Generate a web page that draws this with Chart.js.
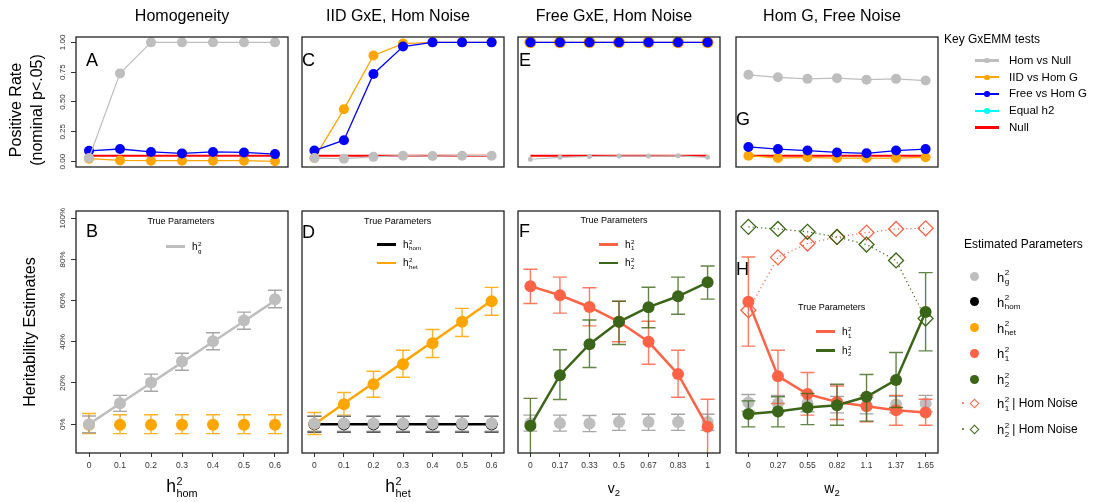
<!DOCTYPE html>
<html lang="en">
<head>
<meta charset="UTF-8" />
<title>GxEMM simulations</title>
<script src="https://cdn.jsdelivr.net/npm/chart.js@4.4.0/dist/chart.umd.min.js"></script>
<style>
  body { margin: 0; background: #fff; }
  #wrap { position: relative; width: 1094px; height: 502px; overflow: hidden; background: #fff;
          font-family: "Liberation Sans", Arial, Helvetica, sans-serif; color: #000; }
  #wrap canvas { position: absolute; left: 0; top: 0; }
  .tx { position: absolute; white-space: nowrap; }
</style>
</head>
<body>
<div id="wrap"></div>
<script>
// ---------- data ----------
const colTitles = ['Homogeneity', 'IID GxE, Hom Noise', 'Free GxE, Hom Noise', 'Hom G, Free Noise'];
const hLevels = ['0', '0.1', '0.2', '0.3', '0.4', '0.5', '0.6'];
const v2Levels = ['0', '0.17', '0.33', '0.5', '0.67', '0.83', '1'];
const w2Levels = ['0', '0.27', '0.55', '0.82', '1.1', '1.37', '1.65'];
const rateTickVals = [0, 0.25, 0.5, 0.75, 1];
const rateTickLabels = ['0.00', '0.25', '0.50', '0.75', '1.00'];
const pctTickVals = [0, 20, 40, 60, 80, 100];
const pctTickLabels = ['0%', '20%', '40%', '60%', '80%', '100%'];
const testNames = ['Hom vs Null', 'IID vs Hom G', 'Free vs Hom G', 'Equal h2', 'Null'];
const estNames = ['g', 'hom', 'het', '1', '2', '1', '2'];

// positive rates (top row)
const nullRate = [0.05, 0.05, 0.05, 0.05, 0.05, 0.05, 0.05];
const A_homNull = [0.03, 0.74, 1, 1, 1, 1, 1];
const A_iid = [0.025, 0.01, 0.008, 0.008, 0.008, 0.008, 0.003];
const A_free = [0.091, 0.106, 0.081, 0.069, 0.081, 0.077, 0.063];
const C_homNull = [0.03, 0.025, 0.04, 0.05, 0.047, 0.05, 0.05];
const C_iid = [0.03, 0.44, 0.89, 0.99, 1, 1, 1];
const C_free = [0.093, 0.18, 0.735, 0.965, 1, 1, 1];
const E_homNull = [0.02, 0.036, 0.043, 0.047, 0.047, 0.049, 0.036];
const E_iid = [1, 1, 1, 1, 1, 1, 1];
const E_free = [1, 1, 1, 1, 1, 1, 1];
const G_homNull = [0.728, 0.707, 0.694, 0.7, 0.687, 0.694, 0.68];
const G_iid = [0.05, 0.03, 0.036, 0.03, 0.03, 0.03, 0.036];
const G_free = [0.123, 0.105, 0.093, 0.077, 0.07, 0.093, 0.105];

// heritability estimates in % (bottom row)
const B_trueG = [0, 10, 20, 30, 40, 50, 60];
const B_estG = [0, 10.2, 20.2, 30.4, 40.3, 50.3, 60.7];
const B_estGLo = [-4.2, 6.2, 16, 26.2, 36.1, 46.1, 56.5];
const B_estGHi = [4, 14, 24.3, 34.4, 44.4, 54.4, 65];
const B_estHet = [-0.3, -0.3, -0.3, -0.3, -0.3, -0.3, -0.3];
const B_estHetLo = [-4.6, -4.6, -4.6, -4.6, -4.6, -4.6, -4.6];
const B_estHetHi = [5.2, 4.6, 4.6, 4.6, 4.6, 4.6, 4.6];

const D_trueHom = [0, 0, 0, 0, 0, 0, 0];
const D_trueHet = [0, 10, 20, 30, 40, 50, 60];
const D_estHom = [0, 0, 0, 0, 0, 0, 0];
const D_estHomLo = [-3.8, -3.8, -3.8, -3.8, -3.8, -3.8, -3.8];
const D_estHomHi = [3.8, 3.8, 3.8, 3.8, 3.8, 3.8, 3.8];
const D_estHet = [0.2, 9.7, 19.4, 29.1, 39.3, 49.7, 59.7];
const D_estHetLo = [-5, 4.4, 13.1, 22.8, 32.4, 42.6, 52.9];
const D_estHetHi = [5.7, 15.4, 25.7, 35.9, 46, 56.2, 66.4];
const D_estG = [0.3, 0.3, 0.3, 0.3, 0.3, 0.3, 0.3];
const D_estGLo = [-3.4, -3.4, -3.4, -3.4, -3.4, -3.4, -3.4];
const D_estGHi = [4, 4, 4, 4, 4, 4, 4];

const F_true1 = [67, 62.6, 56.9, 49.7, 40, 24.3, -1.3];
const F_true2 = [-0.8, 23.8, 38.8, 49.7, 56.8, 62.1, 68.9];
const F_est1 = [67, 62.6, 56.9, 49.7, 40, 24.3, -1.3];
const F_est1Lo = [58.6, 53.9, 47.7, 40, 29.1, 13.1, -16];
const F_est1Hi = [75.2, 71.4, 66.2, 59.7, 50, 35.9, 12.1];
const F_est2 = [-0.8, 23.8, 38.8, 49.7, 56.8, 62.1, 68.9];
const F_est2Lo = [-16, 12, 27.5, 38.7, 46.8, 53.4, 60.7];
const F_est2Hi = [12.5, 36.1, 50.6, 59.7, 66.5, 71.4, 76.8];
const F_estG = [0.5, 0.5, 0.3, 1, 1, 1, 1];
const F_estGLo = [-3.4, -3.4, -3.6, -3, -3, -3, -3];
const F_estGHi = [4.4, 4.4, 4.2, 4.8, 4.8, 4.8, 4.8];

const H_true1 = [59.4, 23.3, 14.6, 10.8, 8.7, 6.8, 5.7];
const H_true2 = [4.9, 6.2, 8.1, 9.2, 13.3, 21.5, 54.5];
const H_est1 = [59.4, 23.3, 14.6, 10.8, 8.7, 6.8, 5.7];
const H_est1Lo = [37.9, 10, 4.4, 2.3, 1.1, -0.5, -0.5];
const H_est1Hi = [81.2, 35.9, 25.1, 18.5, 14, 14, 12.1];
const H_est2 = [4.9, 6.2, 8.1, 9.2, 13.3, 21.5, 54.5];
const H_est2Lo = [-1.3, -1.3, -0.2, -0.5, 1.5, 8.1, 35.6];
const H_est2Hi = [11.3, 13.3, 14.9, 19.4, 24.1, 34.8, 73.6];
const H_estG = [10.5, 10, 10, 9.5, 9, 9.5, 10];
const H_estGLo = [6.3, 6, 6, 5.5, 5, 5.5, 6];
const H_estGHi = [14.4, 14, 14, 13.5, 13, 13.5, 14];
const H_homNoise1 = [55.3, 81, 87.7, 90.9, 93, 94.8, 95.1];
const H_homNoise2 = [95.8, 94.8, 93.4, 90.9, 87.2, 79.5, 51.3];

// ---------- styles ----------
const GRAY = '#bebebe', ORANGE = '#ffa500', BLUE = '#0000ff', CYAN = '#00ffff', RED = '#ff0000';
const TOMATO = '#ff6347', GREEN = '#3b6519', BLACK = '#000000';
const FONT = '"Liberation Sans", Arial, Helvetica, sans-serif';
const BOX_L = [76, 292, 508, 726];
const BOX_W = 212;
const ROWS = [{ top: 37, bottom: 197 }, { top: 211, bottom: 453 }];

const wrap = document.getElementById('wrap');
const pts = arr => arr.map((v, i) => ({ x: i, y: v }));

// error bars + box + rotated y tick labels
const panelDeco = {
  id: 'panelDeco',
  beforeDatasetDraw(chart, args) {
    const ds = chart.data.datasets[args.index];
    if (!ds.errLo) return;
    const { ctx, chartArea: ca } = chart;
    const ys = chart.scales.y;
    ctx.save();
    ctx.beginPath();
    ctx.rect(ca.left, ca.top, ca.width, ca.height);
    ctx.clip();
    ctx.strokeStyle = ds.errColor;
    ctx.lineWidth = 1.4;
    args.meta.data.forEach((p, i) => {
      const y1 = ys.getPixelForValue(ds.errLo[i]);
      const y2 = ys.getPixelForValue(ds.errHi[i]);
      ctx.beginPath();
      ctx.moveTo(p.x, y1); ctx.lineTo(p.x, y2);
      ctx.moveTo(p.x - 7, y1); ctx.lineTo(p.x + 7, y1);
      ctx.moveTo(p.x - 7, y2); ctx.lineTo(p.x + 7, y2);
      ctx.stroke();
    });
    ctx.restore();
  },
  afterDraw(chart, args, opts) {
    const { ctx, chartArea: ca } = chart;
    ctx.save();
    ctx.strokeStyle = '#222';
    ctx.lineWidth = 1.3;
    ctx.strokeRect(ca.left, ca.top, ca.width, ca.height);
    if (opts.showY) {
      const ys = chart.scales.y;
      ctx.fillStyle = '#333';
      ctx.font = '8px ' + FONT;
      ctx.textAlign = 'center';
      ctx.textBaseline = 'middle';
      opts.yVals.forEach((v, i) => {
        ctx.save();
        ctx.translate(ca.left - 13, ys.getPixelForValue(v));
        ctx.rotate(-Math.PI / 2);
        ctx.fillText(opts.yLabels[i], 0, 0);
        ctx.restore();
      });
    }
    ctx.restore();
  }
};

function makePanel(col, row, datasets, xLabels) {
  const cv = document.createElement('canvas');
  cv.width = 1094; cv.height = 502;
  wrap.appendChild(cv);
  const left = BOX_L[col], right = left + BOX_W;
  const { top, bottom } = ROWS[row];
  const showY = col === 0, showX = row === 1;
  const yW = 10, xH = 30;
  const yVals = row === 0 ? rateTickVals : pctTickVals;
  const yLabels = row === 0 ? rateTickLabels : pctTickLabels;
  new Chart(cv.getContext('2d'), {
    type: 'line',
    data: { datasets: datasets.map((d, i) => Object.assign({ tension: 0, order: -i }, d)) },
    options: {
      responsive: false, animation: false, events: [], devicePixelRatio: 1,
      layout: { padding: { left: left - (showY ? yW : 0), right: 1094 - right, top: top,
                           bottom: 502 - bottom - (showX ? xH : 0) } },
      plugins: { legend: { display: false }, tooltip: { enabled: false },
                 panelDeco: { showY, yVals, yLabels } },
      scales: {
        x: {
          type: 'linear', min: -0.42, max: 6.42, display: showX,
          afterBuildTicks: s => { s.ticks = xLabels.map((_, i) => ({ value: i })); },
          afterFit: s => { s.height = xH; },
          grid: { drawOnChartArea: false, drawTicks: true, tickLength: 4, color: '#333' },
          border: { display: false },
          ticks: { padding: 4, autoSkip: false, maxRotation: 0, color: '#333',
                   font: { size: 8.5, family: FONT }, callback: v => xLabels[v] }
        },
        y: {
          type: 'linear', min: row === 0 ? -0.045 : -14, max: row === 0 ? 1.045 : 103.5,
          display: showY,
          afterBuildTicks: s => { s.ticks = yVals.map(v => ({ value: v })); },
          afterFit: s => { s.width = yW; },
          grid: { drawOnChartArea: false, drawTicks: true, tickLength: 5, color: '#333' },
          border: { display: false },
          ticks: { display: false }
        }
      }
    },
    plugins: [panelDeco]
  });
}

function rateLine(vals, color, r, w) {
  return { data: pts(vals), borderColor: color, borderWidth: w || 1.3, pointRadius: r,
           pointBorderWidth: 0, pointBackgroundColor: color };
}
function nullLine() {
  return { data: pts(nullRate), borderColor: RED, borderWidth: 2, pointRadius: 0 };
}
function trueLine(vals, color) {
  return { data: pts(vals), borderColor: color, borderWidth: 2.5, pointRadius: 0 };
}
function est(vals, lo, hi, color, errColor) {
  return { data: pts(vals), showLine: false, pointRadius: 6, pointBorderWidth: 0,
           pointBackgroundColor: color, borderColor: color, errLo: lo, errHi: hi, errColor: errColor };
}
function homNoise(vals, color) {
  return { data: pts(vals), borderColor: color, borderWidth: 1.2, borderDash: [1.2, 3],
           pointStyle: 'rectRot', pointRadius: 7.5, pointBorderWidth: 1.3,
           pointBorderColor: color, pointBackgroundColor: 'rgba(0,0,0,0)' };
}

// top row
makePanel(0, 0, [nullLine(), rateLine(A_iid, ORANGE, 5), rateLine(A_free, BLUE, 5), rateLine(A_homNull, GRAY, 5, 1.2)], hLevels);
makePanel(1, 0, [nullLine(), rateLine(C_iid, ORANGE, 5), rateLine(C_free, BLUE, 5), rateLine(C_homNull, GRAY, 5, 1.2)], hLevels);
makePanel(2, 0, [nullLine(), rateLine(E_iid, ORANGE, 6), rateLine(E_free, BLUE, 5), rateLine(E_homNull, GRAY, 2.5, 1.2)], v2Levels);
makePanel(3, 0, [nullLine(), rateLine(G_iid, ORANGE, 5), rateLine(G_free, BLUE, 5), rateLine(G_homNull, GRAY, 5, 1.2)], w2Levels);

// bottom row
const GRAY_E = 'rgba(150,150,150,0.85)', ORANGE_E = 'rgba(255,165,0,0.85)';
const TOMATO_E = 'rgba(255,99,71,0.85)', GREEN_E = 'rgba(59,101,25,0.8)', BLACK_E = 'rgba(0,0,0,0.85)';
makePanel(0, 1, [trueLine(B_trueG, GRAY),
                 est(B_estHet, B_estHetLo, B_estHetHi, ORANGE, ORANGE_E),
                 est(B_estG, B_estGLo, B_estGHi, GRAY, GRAY_E)], hLevels);
makePanel(1, 1, [trueLine(D_trueHom, BLACK), trueLine(D_trueHet, ORANGE),
                 est(D_estHom, D_estHomLo, D_estHomHi, BLACK, BLACK_E),
                 est(D_estHet, D_estHetLo, D_estHetHi, ORANGE, ORANGE_E),
                 est(D_estG, D_estGLo, D_estGHi, GRAY, GRAY_E)], hLevels);
makePanel(2, 1, [est(F_estG, F_estGLo, F_estGHi, GRAY, GRAY_E),
                 trueLine(F_true1, TOMATO), trueLine(F_true2, GREEN),
                 est(F_est1, F_est1Lo, F_est1Hi, TOMATO, TOMATO_E),
                 est(F_est2, F_est2Lo, F_est2Hi, GREEN, GREEN_E)], v2Levels);
makePanel(3, 1, [est(H_estG, H_estGLo, H_estGHi, GRAY, GRAY_E),
                 trueLine(H_true1, TOMATO), trueLine(H_true2, GREEN),
                 est(H_est1, H_est1Lo, H_est1Hi, TOMATO, TOMATO_E),
                 est(H_est2, H_est2Lo, H_est2Hi, GREEN, GREEN_E),
                 homNoise(H_homNoise1, TOMATO), homNoise(H_homNoise2, GREEN)], w2Levels);

// ---------- text and legends ----------
const mctx = document.createElement('canvas').getContext('2d');
function textWidth(str, size) { mctx.font = size + 'px ' + FONT; return mctx.measureText(str).width; }

function addText(str, x, y, size, opt = {}) {
  const el = document.createElement('div');
  el.className = 'tx';
  el.textContent = str;
  el.style.fontSize = size + 'px';
  el.style.lineHeight = size + 'px';
  el.style.left = x + 'px';
  el.style.top = (y - size / 2) + 'px';
  if (opt.align === 'center') el.style.transform = 'translateX(-50%)';
  if (opt.rotate) { el.style.top = y + 'px'; el.style.transform = 'translate(-50%,-50%) rotate(-90deg)'; }
  wrap.appendChild(el);
  return el;
}
function addBase(str, x, base, size) {
  const el = document.createElement('div');
  el.className = 'tx';
  el.textContent = str;
  el.style.fontSize = size + 'px';
  el.style.lineHeight = size + 'px';
  el.style.left = x + 'px';
  el.style.top = (base - 0.846 * size) + 'px';
  wrap.appendChild(el);
}
function hWidth(size, sub) {
  return textWidth('h', size) + 0.5 + Math.max(textWidth('2', size * 0.62), textWidth(sub, size * 0.62));
}
function hLabel(x, base, size, sub, tail) {
  addBase('h', x, base, size);
  const hx = x + textWidth('h', size) + 0.5;
  const s = size * 0.62;
  addBase('2', hx, base - 0.42 * size, s);
  addBase(sub, hx, base + 0.25 * size, s);
  const end = hx + Math.max(textWidth('2', s), textWidth(sub, s));
  if (tail) addBase(tail, end + 3, base, size * 0.92);
  return end;
}
function addBox(x, y, w, h, css) {
  const el = document.createElement('div');
  el.style.cssText = `position:absolute;left:${x}px;top:${y}px;width:${w}px;height:${h}px;` + css;
  wrap.appendChild(el);
}
function legLine(x1, x2, y, lw, color) { addBox(x1, y - lw / 2, x2 - x1, lw, 'background:' + color); }
function legDot(cx, cy, r, color) { addBox(cx - r, cy - r, 2 * r, 2 * r, 'border-radius:50%;background:' + color); }
function legDiamond(cx, cy, s, color) {
  addBox(cx - s / 2, cy - s / 2, s, s, `border:1.5px solid ${color};box-sizing:border-box;transform:rotate(45deg)`);
}

// column titles
colTitles.forEach((t, i) => addText(t, BOX_L[i] + BOX_W / 2, 16, 16, { align: 'center' }));
// y titles
addText('Positive Rate', 16, 110, 16, { rotate: true });
addText('(nominal p<.05)', 37, 110, 16, { rotate: true });
addText('Heritability Estimates', 30, 332, 16, { rotate: true });
// panel letters
[['A', 86, 60], ['C', 302, 60], ['E', 519, 60], ['G', 736, 119],
 ['B', 86, 230.5], ['D', 302, 231.5], ['F', 519, 231], ['H', 736, 268.5]]
  .forEach(([l, x, y]) => addText(l, x, y, 18));

// x axis titles
[['hom', 0], ['het', 1]].forEach(([sub, c]) => {
  const w = hWidth(17.5, sub);
  hLabel(BOX_L[c] + BOX_W / 2 - w / 2, 492.5, 17.5, sub);
});
[['v', 2], ['w', 3]].forEach(([ch, c]) => {
  const w = textWidth(ch, 14) + textWidth('2', 9.5);
  const x = BOX_L[c] + BOX_W / 2 - w / 2;
  addBase(ch, x, 492.7, 14);
  addBase('2', x + textWidth(ch, 14), 496, 9.5);
});

// "True Parameters" inner legends
function trueLegend(cx, ty, lx1, ly, items) {
  addText('True Parameters', cx, ty, 9, { align: 'center' });
  items.forEach(([sub, color], i) => {
    const y = ly + i * 18.7;
    legLine(lx1, lx1 + 19, y, 2.5, color);
    hLabel(lx1 + 26, y + 3.8, 10, sub);
  });
}
trueLegend(181, 221.7, 166, 246.7, [['g', GRAY]]);
trueLegend(397.7, 221, 377, 244.3, [['hom', BLACK], ['het', ORANGE]]);
trueLegend(614, 220, 599, 244.3, [['1', TOMATO], ['2', GREEN]]);
trueLegend(831.7, 307.7, 816, 331.7, [['1', TOMATO], ['2', GREEN]]);

// Key GxEMM tests legend
addText('Key GxEMM tests', 944, 39, 12);
const testColors = [GRAY, ORANGE, BLUE, CYAN, RED];
testNames.forEach((n, i) => {
  const y = 60.5 + i * 16.8;
  legLine(975, 999, y, i === 4 ? 2.5 : 2.2, testColors[i]);
  if (i < 4) legDot(987, y, 2.8, testColors[i]);
  addText(n, 1009, y, 11.5);
});

// Estimated Parameters legend
addText('Estimated Parameters', 964, 244, 12);
const estColors = [GRAY, BLACK, ORANGE, TOMATO, GREEN, TOMATO, GREEN];
const estY = [276.7, 301.7, 327.7, 353.3, 379.3, 403.3, 429.3];
estNames.forEach((sub, i) => {
  const y = estY[i];
  if (i < 5) {
    legDot(974, y, 4.5, estColors[i]);
    hLabel(997, y + 5, 13, sub);
  } else {
    legDot(963, y, 1, estColors[i]);
    legDiamond(974, y, 7, estColors[i]);
    hLabel(997, y + 5, 13, sub, '| Hom Noise');
  }
});
</script>
</body>
</html>
